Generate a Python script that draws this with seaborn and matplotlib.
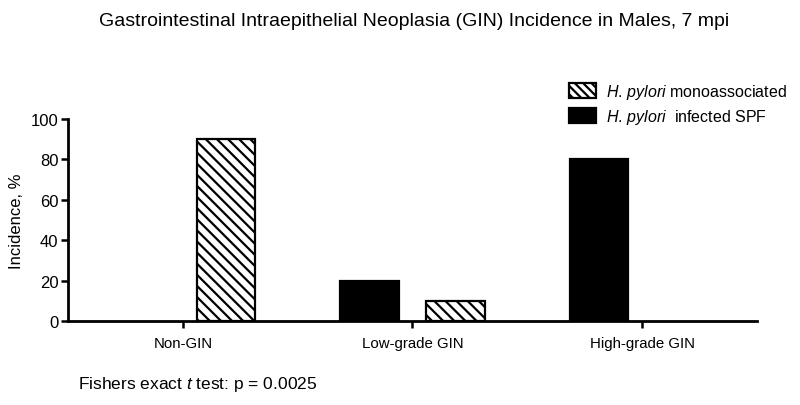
import matplotlib
matplotlib.use("Agg")
import matplotlib.pyplot as plt
import seaborn as sns
import pandas as pd
from matplotlib.patches import Patch

categories = ["Non-GIN", "Low-grade GIN", "High-grade GIN"]
spf_values = [0, 20, 80]
mono_values = [90, 10, 0]
spf_label = r"$\it{H.\,pylori}$  infected SPF"
mono_label = r"$\it{H.\,pylori}$ monoassociated"
yticks = [0, 20, 40, 60, 80, 100]

sns.set_theme(style="ticks", rc={"axes.edgecolor": "black", "xtick.color": "black",
                                 "ytick.color": "black", "text.color": "black",
                                 "axes.labelcolor": "black"})
plt.rcParams["font.family"] = ["Liberation Sans", "DejaVu Sans"]
plt.rcParams["mathtext.fontset"] = "custom"
plt.rcParams["mathtext.rm"] = "Liberation Sans"
plt.rcParams["mathtext.it"] = "Liberation Sans:italic"
plt.rcParams["hatch.linewidth"] = 1.6

df = pd.DataFrame({
    "category": categories * 2,
    "value": spf_values + mono_values,
    "group": ["spf"] * 3 + ["mono"] * 3,
})

fig = plt.figure(figsize=(8, 4.06), dpi=100)
ax = fig.add_axes([68 / 800, 1 - 322 / 406, (757 - 68) / 800, (322 - 120) / 406])

sns.barplot(data=df, x="category", y="value", hue="group", hue_order=["spf", "mono"],
            palette=["black", "white"], edgecolor="black", linewidth=1.6,
            width=0.75, gap=0.32, ax=ax, legend=False, errorbar=None)

for bar in ax.containers[1]:
    bar.set_hatch("\\\\\\")
for cont in ax.containers:
    for bar in cont:
        if bar.get_height() == 0:
            bar.set_linewidth(0)

ax.set_xlim(-0.5, 2.5)
ax.set_ylim(0, 100)
ax.set_yticks(yticks)
ax.set_xlabel("")
ax.set_ylabel("Incidence, %", fontsize=12, labelpad=5)
sns.despine(ax=ax)
for s in ["left", "bottom"]:
    ax.spines[s].set_linewidth(2)
    ax.spines[s].set_color("black")
    ax.spines[s].set_zorder(5)
ax.tick_params(axis="y", length=5, width=1.8, labelsize=12, pad=2, colors="black")
ax.tick_params(axis="x", length=5, width=1.8, labelsize=10.8, pad=6, colors="black")

handles = [Patch(facecolor="white", edgecolor="black", hatch="\\\\\\\\", linewidth=1.6),
           Patch(facecolor="black", edgecolor="black", linewidth=1.6)]
fig.legend(handles, [mono_label, spf_label], loc="upper left",
           bbox_to_anchor=(558 / 800, 1 - 72 / 406), frameon=False,
           fontsize=11.5, handlelength=1.7, handleheight=1.1, handletextpad=0.6,
           labelspacing=0.35, borderpad=0.2)

fig.text(414 / 800, 1 - 22 / 406,
         "Gastrointestinal Intraepithelial Neoplasia (GIN) Incidence in Males, 7 mpi",
         ha="center", va="center", fontsize=14)
fig.text(78 / 800, 1 - 385 / 406, r"Fishers exact $\it{t}$ test: p = 0.0025",
         ha="left", va="center", fontsize=12.5)

fig.savefig("out.png", dpi=100)
